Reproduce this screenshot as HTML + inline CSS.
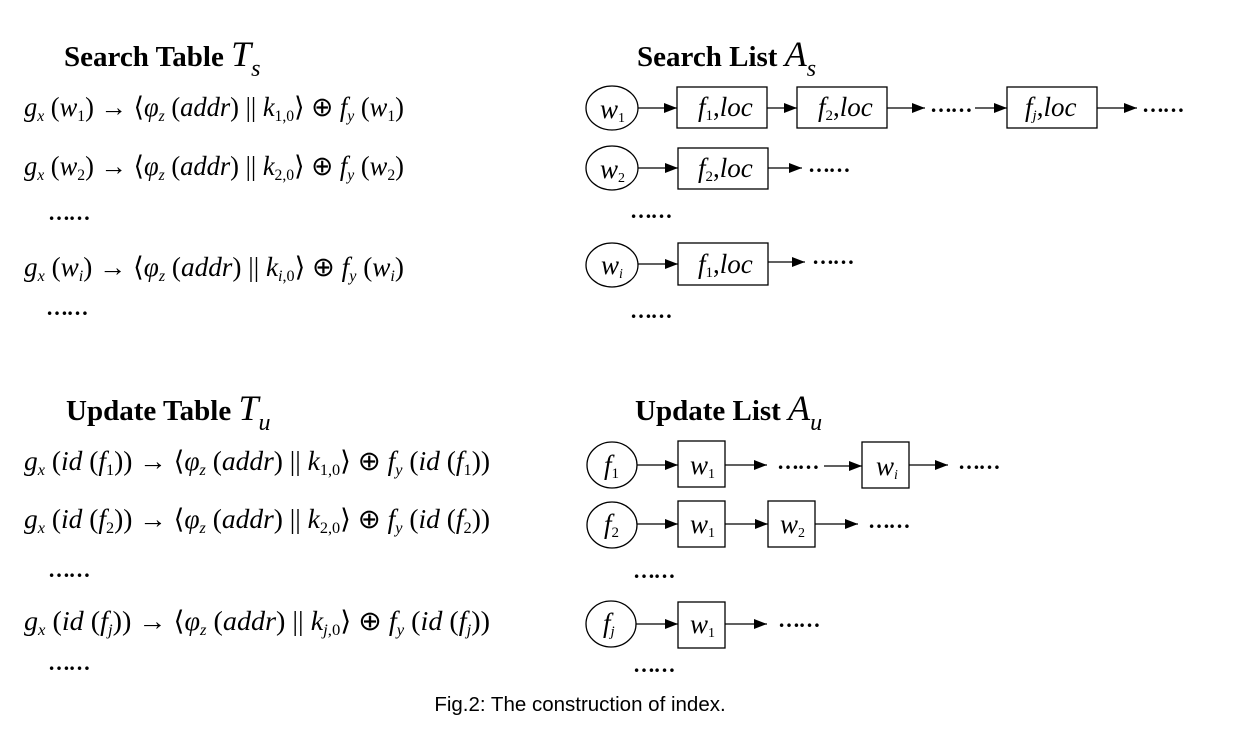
<!DOCTYPE html>
<html><head><meta charset="utf-8"><style>
body{margin:0;background:#fff}
svg{display:block}
.t{font-family:"Liberation Serif",serif;font-weight:bold;font-size:29px}
.m{font-family:"Liberation Serif",serif;font-style:italic;font-size:27px}
.n{font-style:normal}
.d{font-family:"Liberation Serif",serif;font-size:22px;font-weight:bold;letter-spacing:-1.5px}
.cap{font-family:"Liberation Sans",sans-serif;font-size:20.5px}
</style></head><body>
<svg width="1244" height="731" viewBox="0 0 1244 731" xmlns="http://www.w3.org/2000/svg">
<defs><marker id="ah" markerWidth="13" markerHeight="10" refX="13" refY="5" orient="auto" markerUnits="userSpaceOnUse"><path d="M0,0 L13,5 L0,10 z" fill="#000"/></marker></defs>
<g>
<text class="t" x="64" y="66">Search Table <tspan style="font-style:italic;font-weight:normal;font-size:36px">T</tspan><tspan style="font-style:italic;font-weight:normal;font-size:24px" dy="10">s</tspan></text>
<text class="m" x="24" y="116" textLength="380" lengthAdjust="spacingAndGlyphs">g<tspan font-size="16" dy="5">x</tspan><tspan dy="-5" class="n"> (</tspan>w<tspan font-size="16" dy="5" class="n">1</tspan><tspan dy="-5" class="n">) → ⟨</tspan>φ<tspan font-size="16" dy="5">z</tspan><tspan dy="-5" class="n"> (</tspan>addr<tspan class="n">) || </tspan>k<tspan font-size="16" dy="5" class="n">1,0</tspan><tspan dy="-5" class="n">⟩ ⊕ </tspan>f<tspan font-size="16" dy="5">y</tspan><tspan dy="-5" class="n"> (</tspan>w<tspan font-size="16" dy="5" class="n">1</tspan><tspan dy="-5" class="n">)</tspan></text>
<text class="m" x="24" y="175" textLength="380" lengthAdjust="spacingAndGlyphs">g<tspan font-size="16" dy="5">x</tspan><tspan dy="-5" class="n"> (</tspan>w<tspan font-size="16" dy="5" class="n">2</tspan><tspan dy="-5" class="n">) → ⟨</tspan>φ<tspan font-size="16" dy="5">z</tspan><tspan dy="-5" class="n"> (</tspan>addr<tspan class="n">) || </tspan>k<tspan font-size="16" dy="5" class="n">2,0</tspan><tspan dy="-5" class="n">⟩ ⊕ </tspan>f<tspan font-size="16" dy="5">y</tspan><tspan dy="-5" class="n"> (</tspan>w<tspan font-size="16" dy="5" class="n">2</tspan><tspan dy="-5" class="n">)</tspan></text>
<text class="d" x="48" y="220">……</text>
<text class="m" x="24" y="276" textLength="380" lengthAdjust="spacingAndGlyphs">g<tspan font-size="16" dy="5">x</tspan><tspan dy="-5" class="n"> (</tspan>w<tspan font-size="16" dy="5">i</tspan><tspan dy="-5" class="n">) → ⟨</tspan>φ<tspan font-size="16" dy="5">z</tspan><tspan dy="-5" class="n"> (</tspan>addr<tspan class="n">) || </tspan>k<tspan font-size="16" dy="5">i<tspan class="n">,0</tspan></tspan><tspan dy="-5" class="n">⟩ ⊕ </tspan>f<tspan font-size="16" dy="5">y</tspan><tspan dy="-5" class="n"> (</tspan>w<tspan font-size="16" dy="5">i</tspan><tspan dy="-5" class="n">)</tspan></text>
<text class="d" x="46" y="315">……</text>
</g>
<g>
<text class="t" x="66" y="420">Update Table <tspan style="font-style:italic;font-weight:normal;font-size:36px">T</tspan><tspan style="font-style:italic;font-weight:normal;font-size:24px" dy="10">u</tspan></text>
<text class="m" x="24" y="470" textLength="466" lengthAdjust="spacingAndGlyphs">g<tspan font-size="16" dy="5">x</tspan><tspan dy="-5" class="n"> (</tspan>id<tspan class="n"> (</tspan>f<tspan font-size="16" dy="5" class="n">1</tspan><tspan dy="-5" class="n">)) → ⟨</tspan>φ<tspan font-size="16" dy="5">z</tspan><tspan dy="-5" class="n"> (</tspan>addr<tspan class="n">) || </tspan>k<tspan font-size="16" dy="5" class="n">1,0</tspan><tspan dy="-5" class="n">⟩ ⊕ </tspan>f<tspan font-size="16" dy="5">y</tspan><tspan dy="-5" class="n"> (</tspan>id<tspan class="n"> (</tspan>f<tspan font-size="16" dy="5" class="n">1</tspan><tspan dy="-5" class="n">))</tspan></text>
<text class="m" x="24" y="528" textLength="466" lengthAdjust="spacingAndGlyphs">g<tspan font-size="16" dy="5">x</tspan><tspan dy="-5" class="n"> (</tspan>id<tspan class="n"> (</tspan>f<tspan font-size="16" dy="5" class="n">2</tspan><tspan dy="-5" class="n">)) → ⟨</tspan>φ<tspan font-size="16" dy="5">z</tspan><tspan dy="-5" class="n"> (</tspan>addr<tspan class="n">) || </tspan>k<tspan font-size="16" dy="5" class="n">2,0</tspan><tspan dy="-5" class="n">⟩ ⊕ </tspan>f<tspan font-size="16" dy="5">y</tspan><tspan dy="-5" class="n"> (</tspan>id<tspan class="n"> (</tspan>f<tspan font-size="16" dy="5" class="n">2</tspan><tspan dy="-5" class="n">))</tspan></text>
<text class="d" x="48" y="577">……</text>
<text class="m" x="24" y="630" textLength="466" lengthAdjust="spacingAndGlyphs">g<tspan font-size="16" dy="5">x</tspan><tspan dy="-5" class="n"> (</tspan>id<tspan class="n"> (</tspan>f<tspan font-size="16" dy="5">j</tspan><tspan dy="-5" class="n">)) → ⟨</tspan>φ<tspan font-size="16" dy="5">z</tspan><tspan dy="-5" class="n"> (</tspan>addr<tspan class="n">) || </tspan>k<tspan font-size="16" dy="5">j<tspan class="n">,0</tspan></tspan><tspan dy="-5" class="n">⟩ ⊕ </tspan>f<tspan font-size="16" dy="5">y</tspan><tspan dy="-5" class="n"> (</tspan>id<tspan class="n"> (</tspan>f<tspan font-size="16" dy="5">j</tspan><tspan dy="-5" class="n">))</tspan></text>
<text class="d" x="48" y="670">……</text>
</g>
<g stroke="#000" stroke-width="1.3" fill="none">
<text class="t" x="637" y="66" stroke="none" fill="#000">Search List <tspan style="font-style:italic;font-weight:normal;font-size:36px">A</tspan><tspan style="font-style:italic;font-weight:normal;font-size:24px" dy="10">s</tspan></text>
<ellipse cx="612" cy="108" rx="26" ry="22"/>
<rect x="677" y="87" width="90" height="41"/><rect x="797" y="87" width="90" height="41"/><rect x="1007" y="87" width="90" height="41"/>
<line x1="638" y1="108" x2="677" y2="108" marker-end="url(#ah)"/>
<line x1="767" y1="108" x2="797" y2="108" marker-end="url(#ah)"/>
<line x1="887" y1="108" x2="925" y2="108" marker-end="url(#ah)"/>
<line x1="975" y1="108" x2="1007" y2="108" marker-end="url(#ah)"/>
<line x1="1097" y1="108" x2="1137" y2="108" marker-end="url(#ah)"/>
<ellipse cx="612" cy="168" rx="26" ry="22"/>
<rect x="678" y="148" width="90" height="41"/>
<line x1="638" y1="168" x2="678" y2="168" marker-end="url(#ah)"/>
<line x1="768" y1="168" x2="802" y2="168" marker-end="url(#ah)"/>
<ellipse cx="612" cy="265" rx="26" ry="22"/>
<rect x="678" y="243" width="90" height="42"/>
<line x1="638" y1="264" x2="678" y2="264" marker-end="url(#ah)"/>
<line x1="768" y1="262" x2="805" y2="262" marker-end="url(#ah)"/>
<g stroke="none" fill="#000">
<text class="m" x="600" y="118" font-size="22">w<tspan font-size="14" dy="4" class="n">1</tspan></text>
<text class="m" x="698" y="116" font-size="24">f<tspan font-size="15" dy="4" class="n">1</tspan><tspan dy="-4" class="n">,</tspan>loc</text>
<text class="m" x="818" y="116" font-size="24">f<tspan font-size="15" dy="4" class="n">2</tspan><tspan dy="-4" class="n">,</tspan>loc</text>
<text class="m" x="1025" y="116" font-size="24">f<tspan font-size="15" dy="4">j</tspan><tspan dy="-4" class="n">,</tspan>loc</text>
<text class="d" x="930" y="112">……</text><text class="d" x="1142" y="112">……</text>
<text class="m" x="600" y="178" font-size="22">w<tspan font-size="14" dy="4" class="n">2</tspan></text>
<text class="m" x="698" y="177" font-size="24">f<tspan font-size="15" dy="4" class="n">2</tspan><tspan dy="-4" class="n">,</tspan>loc</text>
<text class="d" x="808" y="172">……</text>
<text class="d" x="630" y="218">……</text>
<text class="m" x="601" y="274" font-size="22">w<tspan font-size="14" dy="4">i</tspan></text>
<text class="m" x="698" y="273" font-size="24">f<tspan font-size="15" dy="4" class="n">1</tspan><tspan dy="-4" class="n">,</tspan>loc</text>
<text class="d" x="812" y="264">……</text>
<text class="d" x="630" y="318">……</text>
</g>
</g>
<g stroke="#000" stroke-width="1.3" fill="none">
<text class="t" x="635" y="420" stroke="none" fill="#000">Update List <tspan style="font-style:italic;font-weight:normal;font-size:36px">A</tspan><tspan style="font-style:italic;font-weight:normal;font-size:24px" dy="10">u</tspan></text>
<ellipse cx="612" cy="465" rx="25" ry="23"/>
<rect x="678" y="441" width="47" height="46"/><rect x="862" y="442" width="47" height="46"/>
<line x1="637" y1="465" x2="678" y2="465" marker-end="url(#ah)"/>
<line x1="725" y1="465" x2="767" y2="465" marker-end="url(#ah)"/>
<line x1="824" y1="466" x2="862" y2="466" marker-end="url(#ah)"/>
<line x1="909" y1="465" x2="948" y2="465" marker-end="url(#ah)"/>
<ellipse cx="612" cy="525" rx="25" ry="23"/>
<rect x="678" y="501" width="47" height="46"/><rect x="768" y="501" width="47" height="46"/>
<line x1="637" y1="524" x2="678" y2="524" marker-end="url(#ah)"/>
<line x1="725" y1="524" x2="768" y2="524" marker-end="url(#ah)"/>
<line x1="815" y1="524" x2="858" y2="524" marker-end="url(#ah)"/>
<ellipse cx="611" cy="624" rx="25" ry="23"/>
<rect x="678" y="602" width="47" height="46"/>
<line x1="636" y1="624" x2="678" y2="624" marker-end="url(#ah)"/>
<line x1="725" y1="624" x2="767" y2="624" marker-end="url(#ah)"/>
<g stroke="none" fill="#000">
<text class="m" x="604" y="474" font-size="24">f<tspan font-size="15" dy="4" class="n">1</tspan></text>
<text class="m" x="690" y="474" font-size="22">w<tspan font-size="14" dy="4" class="n">1</tspan></text>
<text class="m" x="876" y="475" font-size="22">w<tspan font-size="14" dy="4">i</tspan></text>
<text class="d" x="777" y="469">……</text><text class="d" x="958" y="469">……</text>
<text class="m" x="604" y="533" font-size="24">f<tspan font-size="15" dy="4" class="n">2</tspan></text>
<text class="m" x="690" y="533" font-size="22">w<tspan font-size="14" dy="4" class="n">1</tspan></text>
<text class="m" x="780" y="533" font-size="22">w<tspan font-size="14" dy="4" class="n">2</tspan></text>
<text class="d" x="868" y="528">……</text>
<text class="d" x="633" y="578">……</text>
<text class="m" x="603" y="632" font-size="24">f<tspan font-size="15" dy="4">j</tspan></text>
<text class="m" x="690" y="633" font-size="22">w<tspan font-size="14" dy="4" class="n">1</tspan></text>
<text class="d" x="778" y="627">……</text>
<text class="d" x="633" y="672">……</text>
</g>
</g>
<text class="cap" x="580" y="711" text-anchor="middle">Fig.2: The construction of index.</text>
</svg>
</body></html>
